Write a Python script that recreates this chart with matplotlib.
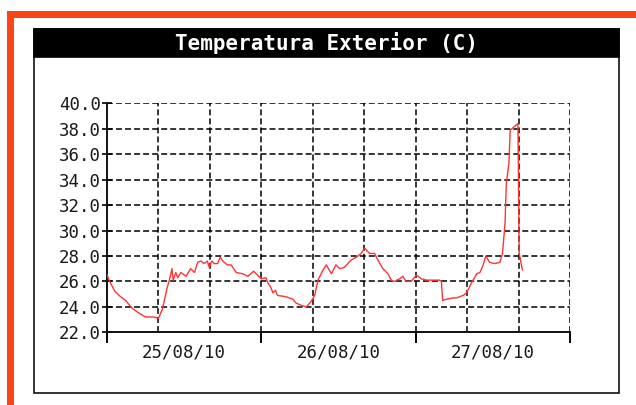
import matplotlib
matplotlib.use("Agg")
import matplotlib.pyplot as plt
from matplotlib.patches import Rectangle

# hours since 25/08/10 00:00 and outside temperature (C)
hours = [0.05, 0.3, 1.25, 2.1, 2.9, 3.9, 5.0, 6.0, 7.3, 8.0, 8.6, 9.4, 9.7, 10.1, 10.3,
         10.7, 11.0, 11.5, 12.3, 13.0, 13.6, 14.1, 14.6, 15.1, 15.6, 15.9, 16.3, 16.7,
         17.2, 17.6, 18.0, 18.7, 19.3, 20.1, 21.1, 21.9, 22.8, 23.4, 24.0, 24.7, 25.0,
         25.5, 25.8, 26.2, 26.5, 27.8, 28.9, 29.4, 30.3, 31.0, 31.7, 32.3, 32.8, 33.6,
         34.1, 34.9, 35.6, 36.2, 36.9, 38.0, 38.8, 39.5, 40.1, 40.8, 41.6, 42.1, 42.9,
         43.7, 44.2, 44.7, 45.5, 46.0, 46.5, 47.3, 48.1, 48.9, 49.7, 51.7, 52.0, 52.2,
         52.8, 53.8, 54.3, 55.4, 55.9, 56.7, 57.5, 58.0, 58.5, 58.9, 59.5, 60.3, 61.1,
         61.5, 61.9, 62.1, 62.5, 62.7, 63.2, 63.9, 64.1, 64.6]
temps = [26.5, 26.1, 25.2, 24.8, 24.5, 23.9, 23.5, 23.2, 23.2, 23.1, 23.8, 25.6, 26.1, 27.0, 26.1,
         26.7, 26.3, 26.7, 26.4, 27.0, 26.7, 27.5, 27.6, 27.4, 27.6, 27.1, 27.6, 27.4,
         27.4, 27.9, 27.6, 27.3, 27.3, 26.7, 26.6, 26.4, 26.8, 26.5, 26.2, 26.3, 25.9,
         25.5, 25.1, 25.3, 24.9, 24.8, 24.6, 24.3, 24.1, 24.0, 24.4, 24.9, 26.1, 26.9,
         27.3, 26.6, 27.3, 27.0, 27.1, 27.7, 27.9, 28.2, 28.6, 28.2, 28.2, 27.7, 27.0,
         26.6, 26.1, 26.0, 26.2, 26.4, 26.0, 26.0, 26.5, 26.2, 26.1, 26.1, 26.0, 24.5,
         24.6, 24.7, 24.7, 24.9, 25.1, 25.9, 26.6, 26.7, 27.3, 28.0, 27.5, 27.4, 27.5,
         28.2, 30.6, 33.7, 35.3, 37.9, 38.1, 38.4, 28.2, 26.9]

day_labels = ["25/08/10", "26/08/10", "27/08/10"]
title = "Temperatura Exterior (C)"

W, H = 636, 405
plt.rcParams["lines.scale_dashes"] = False
fig = plt.figure(figsize=(W / 100, H / 100), dpi=100)
fig.patch.set_facecolor("white")

def box(x0, y0, x1, y1, **kw):
    # pixel coords measured from the top-left corner
    fig.add_artist(Rectangle((x0 / W, 1 - y1 / H), (x1 - x0) / W, (y1 - y0) / H,
                             transform=fig.transFigure, zorder=-1, **kw))

orange = "#fa4616"
box(7, 11, 636, 18, facecolor=orange, edgecolor="none")
box(7, 11, 14, 405, facecolor=orange, edgecolor="none")
box(34, 29, 619, 393, facecolor="white", edgecolor="#111111", linewidth=1.2)
box(34, 29, 619, 57, facecolor="black", edgecolor="black", linewidth=1.2)
fig.text(326.5 / W, 1 - 43.5 / H, title, color="white", ha="center", va="center",
         family="DejaVu Sans Mono", fontweight="bold", fontsize=15)

ax = fig.add_axes([107 / W, 1 - 332.3 / H, (570 - 107) / W, (332.3 - 103.3) / H])
ax.set_zorder(5)
ax.plot(hours, temps, color="#ff3333", linewidth=1.0, zorder=3)
ax.set_xlim(0, 72)
ax.set_ylim(22, 40)

yt = list(range(22, 41, 2))
ax.set_yticks(yt)
ax.set_yticklabels(["%.1f" % v for v in yt])
ax.set_xticks([0, 24, 48, 72])
ax.set_xticklabels([])

grid_kw = dict(color="black", linewidth=1.1, linestyle=(0, (4.3, 2.2)))
for y in yt[1:]:
    ax.axhline(y, zorder=1, **grid_kw)
for x in [8, 16, 24, 32, 40, 48, 56, 64, 72]:
    ax.axvline(x, zorder=1, **grid_kw)

for i, lab in enumerate(day_labels):
    ax.text(12 + 24 * i, -0.09, lab, transform=ax.get_xaxis_transform(),
            ha="center", va="center", family="DejaVu Sans Mono", fontsize=12.5,
            color="#1a1a1a")

ax.tick_params(axis="y", direction="inout", length=7, width=1.2, pad=1,
               labelsize=12.5, labelcolor="#1a1a1a")
for lab in ax.get_yticklabels():
    lab.set_family("DejaVu Sans Mono")
ax.tick_params(axis="x", which="major", direction="out", length=8, width=1.4)

for s in ["top", "right"]:
    ax.spines[s].set_visible(False)
for s in ["left", "bottom"]:
    ax.spines[s].set_linewidth(1.4)
    ax.spines[s].set_color("#111111")
ax.set_facecolor("none")

fig.savefig("out.png", dpi=100)
